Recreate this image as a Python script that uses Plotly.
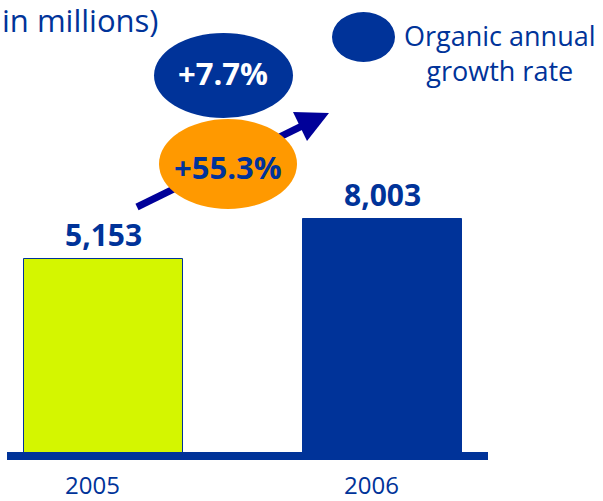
import math
import plotly.graph_objects as go

# Revenue by year (in millions)
years = ["2005", "2006"]
revenue = [5153, 8003]
value_labels = ["5,153", "8,003"]
bar_colors = ["#D4F600", "#003399"]

total_growth_label = "+55.3%"
organic_growth_label = "+7.7%"
legend_label = "Organic annual<br>growth rate"
unit_note = "in millions)"

NAVY = "#003399"
ARROW = "#000099"
ORANGE = "#FF9900"
FONT = "Open Sans"

W, H = 603, 501


def px(x):
    return x / W


def py(y):
    return 1 - y / H


fig = go.Figure()

fig.add_trace(go.Bar(
    x=years,
    y=revenue,
    width=0.567,
    marker=dict(color=bar_colors, line=dict(color=[NAVY, NAVY], width=1)),
    hoverinfo="x+y",
))

# value labels above the bars; category index on x, log10 value on the log y axis
for i, (val, lab) in enumerate(zip(revenue, value_labels)):
    fig.add_annotation(
        x=i, y=math.log10(val), xref="x", yref="y", text=f"<b>{lab}</b>",
        showarrow=False, xanchor="center", yanchor="middle", yshift=25,
        font=dict(family=FONT, size=30, color=NAVY),
    )

shapes = []
# growth arrow (drawn first so the orange bubble sits over it)
shapes.append(dict(type="line", xref="paper", yref="paper",
                   x0=px(137), y0=py(207), x1=px(302), y1=py(126),
                   line=dict(color=ARROW, width=7)))
shapes.append(dict(type="path", xref="paper", yref="paper",
                   path=f"M {px(293)},{py(112)} L {px(329)},{py(113)} L {px(307)},{py(141)} Z",
                   fillcolor=ARROW, line=dict(width=0)))
# total growth bubble
shapes.append(dict(type="circle", xref="paper", yref="paper",
                   x0=px(159), x1=px(297), y0=py(209), y1=py(119),
                   fillcolor=ORANGE, line=dict(width=0)))
# organic growth bubble
shapes.append(dict(type="circle", xref="paper", yref="paper",
                   x0=px(154), x1=px(293), y0=py(118), y1=py(33),
                   fillcolor=NAVY, line=dict(width=0)))
# legend marker
shapes.append(dict(type="circle", xref="paper", yref="paper",
                   x0=px(332), x1=px(395), y0=py(62), y1=py(12),
                   fillcolor=NAVY, line=dict(width=0)))
# baseline bar
shapes.append(dict(type="rect", xref="paper", yref="paper",
                   x0=px(7), x1=px(488), y0=py(460), y1=py(452),
                   fillcolor=NAVY, line=dict(width=0)))
fig.update_layout(shapes=shapes)

fig.add_annotation(x=px(223), y=py(73), xref="paper", yref="paper",
                   xanchor="center", yanchor="middle",
                   text=f"<b>{organic_growth_label}</b>", showarrow=False,
                   font=dict(family=FONT, size=31, color="white"))
fig.add_annotation(x=px(228), y=py(167), xref="paper", yref="paper",
                   xanchor="center", yanchor="middle",
                   text=f"<b>{total_growth_label}</b>", showarrow=False,
                   font=dict(family=FONT, size=31, color=NAVY))
fig.add_annotation(x=px(500), y=py(53), xref="paper", yref="paper",
                   xanchor="center", yanchor="middle",
                   text=legend_label, showarrow=False, align="center",
                   font=dict(family=FONT, size=27, color=NAVY))
fig.add_annotation(x=px(0), y=py(20), xref="paper", yref="paper",
                   xanchor="left", yanchor="middle",
                   text=unit_note, showarrow=False,
                   font=dict(family=FONT, size=31, color=NAVY))

fig.update_layout(
    width=W, height=H,
    margin=dict(l=0, r=0, t=0, b=0),
    paper_bgcolor="white", plot_bgcolor="white",
    showlegend=False,
    bargap=0,
    xaxis=dict(
        domain=[7 / W, 488 / W],
        type="category", range=[-0.346, 1.378],
        showgrid=False, zeroline=False, showline=False, ticks="",
        tickfont=dict(family=FONT, size=24, color=NAVY),
        ticklabelshift=-11, ticklabelstandoff=17,
        automargin=False,
    ),
    yaxis=dict(
        domain=[49 / H, 1],
        type="log", range=[2.790, 4.950],
        visible=False, automargin=False,
    ),
)

fig.write_html("out.html")
